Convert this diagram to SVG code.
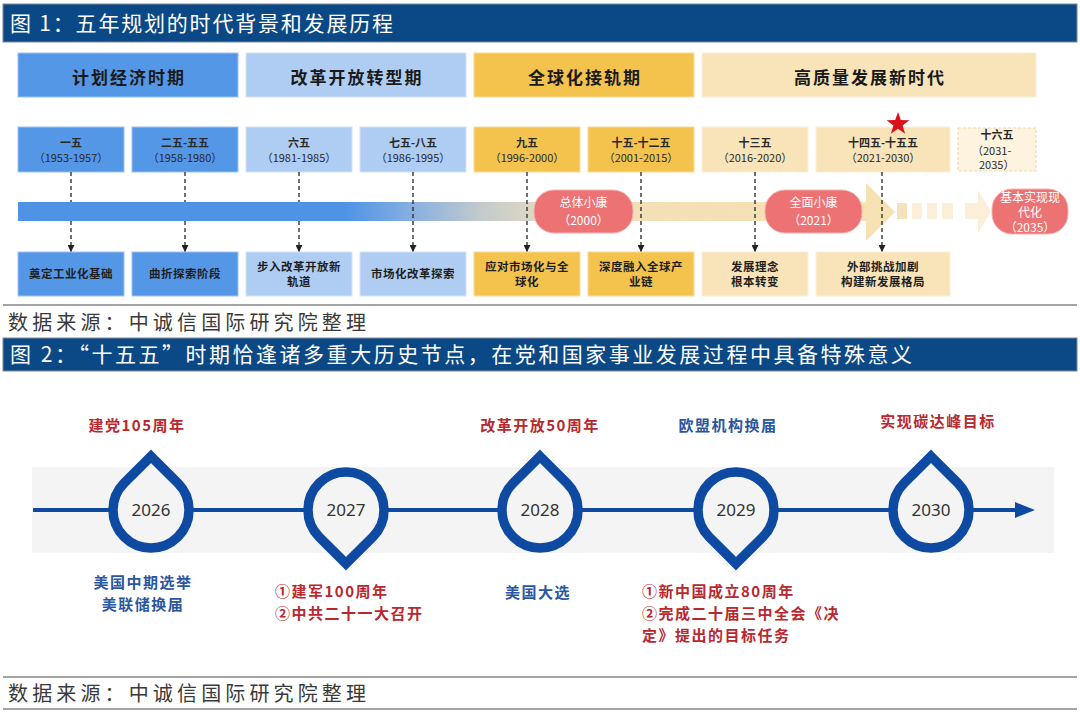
<svg xmlns="http://www.w3.org/2000/svg" width="1080" height="714" viewBox="0 0 1080 714">
<style>
.hdr{fill:#0b4886;stroke:#7d8a99;stroke-width:1}
.htxt{font-family:"Noto Sans CJK SC","Liberation Sans",sans-serif;font-size:21px;fill:#fff}
.src{font-family:"Noto Sans CJK SC","Liberation Sans",sans-serif;font-size:20px;fill:#3a3a3a}
.rule{stroke:#a3a3a3;stroke-width:2}
.ph{font-family:"Noto Sans CJK SC",sans-serif;font-size:17px;font-weight:700;fill:#1a1a1a;letter-spacing:2px}
.pd1{font-family:"Noto Sans CJK SC",sans-serif;font-size:11px;font-weight:700;fill:#2a2a2a}
.pd2{font-family:"Noto Sans CJK SC",sans-serif;font-size:11px;fill:#2a2a2a}
.bt{font-family:"Noto Sans CJK SC",sans-serif;font-size:11.5px;font-weight:700;fill:#1f1f1f;letter-spacing:0.5px}
.pt{font-family:"Noto Sans CJK SC",sans-serif;font-size:12px;fill:#fff}
.pill{fill:#ec7273;stroke:#f6b3b3;stroke-width:1}
.c1{fill:#5597e7;stroke:#9cc2f2;stroke-width:1}
.c2{fill:#afcdf2;stroke:#d3e3f8;stroke-width:1}
.c3{fill:#f4c34e;stroke:#f8dc98;stroke-width:1}
.c4{fill:#f8e4b8;stroke:#fbf0d8;stroke-width:1}
.dl{stroke:#262626;stroke-width:1.3;stroke-dasharray:4 3;fill:none}
.drop{fill:#f4f4f4;stroke:#0f4aa2;stroke-width:9.5;stroke-linejoin:miter}
.yr{font-family:"Noto Sans","Liberation Sans",sans-serif;font-size:17px;fill:#333;text-anchor:middle}
.lr{font-family:"Noto Sans CJK SC",sans-serif;font-size:15px;font-weight:700;fill:#b8282e;letter-spacing:1.5px}
.lb{font-family:"Noto Sans CJK SC",sans-serif;font-size:15px;font-weight:700;fill:#2a56a0;letter-spacing:1.5px}
</style>
<defs>
<marker id="ah" viewBox="0 0 10 10" refX="10" refY="5" markerWidth="7" markerHeight="7" orient="auto" markerUnits="userSpaceOnUse">
<path d="M0,0 L10,5 L0,10 z" fill="#222"/>
</marker>
<linearGradient id="bar" gradientUnits="userSpaceOnUse" x1="18" y1="0" x2="866" y2="0">
<stop offset="0" stop-color="#4f93e6"/>
<stop offset="0.386" stop-color="#4f93e6"/>
<stop offset="0.466" stop-color="#88b0e0"/>
<stop offset="0.548" stop-color="#c4cbcc"/>
<stop offset="0.600" stop-color="#d9d6c4"/>
<stop offset="0.66" stop-color="#f2dfb6"/>
<stop offset="1" stop-color="#f7e2b4"/>
</linearGradient>
</defs>

<rect width="1080" height="714" fill="#fff"/>

<!-- Figure 1 header -->
<g id="fig1-header">
<rect class="hdr" x="3" y="4" width="1074" height="38"/>
<text class="htxt" x="10" y="31" textLength="383" lengthAdjust="spacing">图 1：五年规划的时代背景和发展历程</text>
</g>

<!-- Phase boxes -->
<g id="phase-1"><rect class="c1" x="18" y="53" width="220" height="44"/><text class="ph" x="129" y="76" text-anchor="middle" dominant-baseline="central">计划经济时期</text></g>
<g id="phase-2"><rect class="c2" x="246" y="53" width="220" height="44"/><text class="ph" x="357" y="76" text-anchor="middle" dominant-baseline="central">改革开放转型期</text></g>
<g id="phase-3"><rect class="c3" x="474" y="53" width="220" height="44"/><text class="ph" x="585" y="76" text-anchor="middle" dominant-baseline="central">全球化接轨期</text></g>
<g id="phase-4"><rect class="c4" x="702" y="53" width="334" height="44"/><text class="ph" x="870" y="76" text-anchor="middle" dominant-baseline="central">高质量发展新时代</text></g>

<!-- Period boxes -->
<g id="p1"><rect class="c1" x="18" y="127" width="106" height="45"/><text class="pd1" x="71" y="147" text-anchor="middle">一五</text><text class="pd2" x="71" y="162" text-anchor="middle">（1953-1957）</text></g>
<g id="p2"><rect class="c1" x="132" y="127" width="106" height="45"/><text class="pd1" x="185" y="147" text-anchor="middle">二五-五五</text><text class="pd2" x="185" y="162" text-anchor="middle">（1958-1980）</text></g>
<g id="p3"><rect class="c2" x="246" y="127" width="106" height="45"/><text class="pd1" x="299" y="147" text-anchor="middle">六五</text><text class="pd2" x="299" y="162" text-anchor="middle">（1981-1985）</text></g>
<g id="p4"><rect class="c2" x="360" y="127" width="106" height="45"/><text class="pd1" x="413" y="147" text-anchor="middle">七五-八五</text><text class="pd2" x="413" y="162" text-anchor="middle">（1986-1995）</text></g>
<g id="p5"><rect class="c3" x="474" y="127" width="106" height="45"/><text class="pd1" x="527" y="147" text-anchor="middle">九五</text><text class="pd2" x="527" y="162" text-anchor="middle">（1996-2000）</text></g>
<g id="p6"><rect class="c3" x="588" y="127" width="106" height="45"/><text class="pd1" x="641" y="147" text-anchor="middle">十五-十二五</text><text class="pd2" x="641" y="162" text-anchor="middle">（2001-2015）</text></g>
<g id="p7"><rect class="c4" x="702" y="127" width="106" height="45"/><text class="pd1" x="755" y="147" text-anchor="middle">十三五</text><text class="pd2" x="755" y="162" text-anchor="middle">（2016-2020）</text></g>
<g id="p8"><rect class="c4" x="816" y="127" width="134" height="45"/><text class="pd1" x="883" y="147" text-anchor="middle">十四五-十五五</text><text class="pd2" x="883" y="162" text-anchor="middle">（2021-2030）</text></g>
<g id="p9"><rect x="958" y="128" width="78" height="43" fill="#fdf3df" stroke="#f1dcae" stroke-width="1.2" stroke-dasharray="3 2"/><text class="pd1" x="997" y="139" text-anchor="middle">十六五</text><text class="pd2" x="972" y="155">（2031-</text><text class="pd2" x="979" y="169">2035）</text></g>
<g id="star"><polygon points="898,112 900.8,120.1 909.4,120.3 902.6,125.5 905.1,133.7 898,128.8 890.9,133.7 893.4,125.5 886.6,120.3 895.2,120.1" fill="#d8131b"/></g>

<!-- Timeline bar -->
<g id="bar-arrow">
<rect x="18" y="202" width="850" height="19" fill="url(#bar)"/>
<polygon points="866,183 895,212 866,241" fill="#f7e2b4"/>
<rect x="897" y="203" width="10" height="16" fill="#f5e2bc"/>
<rect x="912" y="203" width="10" height="16" fill="#fcefd9"/>
<rect x="927" y="203" width="10" height="16" fill="#fcefd9"/>
<rect x="942" y="203" width="11" height="16" fill="#fcefd9"/>
<rect x="965" y="203" width="14" height="16" fill="#fcefd9"/>
<polygon points="978,190 991,211.5 978,233" fill="#fcefd9"/>
</g>

<!-- Connectors -->
<g id="connectors">
<path class="dl" d="M71,172 V202 M185,172 V202 M299,172 V202"/>
<line class="dl" x1="71" y1="221" x2="71" y2="252" marker-end="url(#ah)"/>
<line class="dl" x1="185" y1="221" x2="185" y2="252" marker-end="url(#ah)"/>
<line class="dl" x1="299" y1="221" x2="299" y2="252" marker-end="url(#ah)"/>
<line class="dl" x1="413" y1="172" x2="413" y2="252" marker-end="url(#ah)"/>
<line class="dl" x1="527" y1="172" x2="527" y2="252" marker-end="url(#ah)"/>
<line class="dl" x1="641" y1="172" x2="641" y2="252" marker-end="url(#ah)"/>
<line class="dl" x1="755" y1="172" x2="755" y2="252" marker-end="url(#ah)"/>
<line class="dl" x1="882" y1="172" x2="882" y2="252" marker-end="url(#ah)"/>
</g>

<!-- Milestone pills -->
<g id="pill-2000"><rect class="pill" x="534" y="190" width="99" height="43" rx="20"/><text class="pt" x="583.5" y="207" text-anchor="middle">总体小康</text><text class="pt" x="583.5" y="225" text-anchor="middle">（2000）</text></g>
<g id="pill-2021"><rect class="pill" x="765" y="190" width="97" height="43" rx="20"/><text class="pt" x="813.5" y="207" text-anchor="middle">全面小康</text><text class="pt" x="813.5" y="225" text-anchor="middle">（2021）</text></g>
<g id="pill-2035"><rect class="pill" x="992" y="189" width="76" height="45" rx="20"/><text class="pt" x="1030" y="202" text-anchor="middle" font-size="11">基本实现现</text><text class="pt" x="1030" y="217" text-anchor="middle" font-size="11">代化</text><text class="pt" x="1030" y="232" text-anchor="middle" font-size="11">（2035）</text></g>

<!-- Bottom boxes -->
<g id="b1"><rect class="c1" x="18" y="252" width="106" height="44"/><text class="bt" x="71" y="278" text-anchor="middle">奠定工业化基础</text></g>
<g id="b2"><rect class="c1" x="132" y="252" width="106" height="44"/><text class="bt" x="185" y="278" text-anchor="middle">曲折探索阶段</text></g>
<g id="b3"><rect class="c2" x="246" y="252" width="106" height="44"/><text class="bt" x="299" y="271" text-anchor="middle">步入改革开放新</text><text class="bt" x="299" y="286" text-anchor="middle">轨道</text></g>
<g id="b4"><rect class="c2" x="360" y="252" width="106" height="44"/><text class="bt" x="413" y="278" text-anchor="middle">市场化改革探索</text></g>
<g id="b5"><rect class="c3" x="474" y="252" width="106" height="44"/><text class="bt" x="527" y="271" text-anchor="middle">应对市场化与全</text><text class="bt" x="527" y="286" text-anchor="middle">球化</text></g>
<g id="b6"><rect class="c3" x="588" y="252" width="106" height="44"/><text class="bt" x="641" y="271" text-anchor="middle">深度融入全球产</text><text class="bt" x="641" y="286" text-anchor="middle">业链</text></g>
<g id="b7"><rect class="c4" x="702" y="252" width="106" height="44"/><text class="bt" x="755" y="271" text-anchor="middle">发展理念</text><text class="bt" x="755" y="286" text-anchor="middle">根本转变</text></g>
<g id="b8"><rect class="c4" x="816" y="252" width="134" height="44"/><text class="bt" x="883" y="271" text-anchor="middle">外部挑战加剧</text><text class="bt" x="883" y="286" text-anchor="middle">构建新发展格局</text></g>

<!-- Source 1 -->
<g id="source-1">
<line class="rule" x1="3" y1="305" x2="1077" y2="305"/>
<text class="src" x="8" y="330" textLength="358" lengthAdjust="spacing">数据来源：中诚信国际研究院整理</text>
</g>

<!-- Figure 2 header -->
<g id="fig2-header">
<rect class="hdr" x="3" y="338" width="1074" height="33"/>
<text class="htxt" x="10" y="362" textLength="902" lengthAdjust="spacing">图 2：“十五五”时期恰逢诸多重大历史节点，在党和国家事业发展过程中具备特殊意义</text>
</g>

<!-- Figure 2 timeline -->
<g id="band"><rect x="32" y="467" width="1022" height="86" fill="#f4f4f4"/></g>
<g id="connectors-2">
<line x1="33" y1="510" x2="1018" y2="510" stroke="#0f4aa2" stroke-width="4"/>
<polygon points="1015,502 1035,510 1015,518" fill="#0f4aa2"/>
</g>

<g id="y2026"><path class="drop" d="M151,456.3 L177.9,483.1 A38,38 0 1 1 124.1,483.1 Z"/><text class="yr" x="151" y="516">2026</text></g>
<g id="y2027"><path class="drop" d="M346,563.7 L372.9,536.9 A38,38 0 1 0 319.1,536.9 Z"/><text class="yr" x="346" y="516">2027</text></g>
<g id="y2028"><path class="drop" d="M540,456.3 L566.9,483.1 A38,38 0 1 1 513.1,483.1 Z"/><text class="yr" x="540" y="516">2028</text></g>
<g id="y2029"><path class="drop" d="M736,563.7 L762.9,536.9 A38,38 0 1 0 709.1,536.9 Z"/><text class="yr" x="736" y="516">2029</text></g>
<g id="y2030"><path class="drop" d="M931,456.3 L957.9,483.1 A38,38 0 1 1 904.1,483.1 Z"/><text class="yr" x="931" y="516">2030</text></g>

<g id="label-2026-top"><text class="lr" x="137" y="431" text-anchor="middle">建党105周年</text></g>
<g id="label-2028-top"><text class="lr" x="540" y="431" text-anchor="middle">改革开放50周年</text></g>
<g id="label-2029-top"><text class="lb" x="728" y="431" text-anchor="middle">欧盟机构换届</text></g>
<g id="label-2030-top"><text class="lr" x="938" y="427" text-anchor="middle">实现碳达峰目标</text></g>

<g id="label-2026-bottom"><text class="lb" x="143" y="588" text-anchor="middle">美国中期选举</text><text class="lb" x="143" y="610" text-anchor="middle">美联储换届</text></g>
<g id="label-2027-bottom"><text class="lr" x="275" y="597">①建军100周年</text><text class="lr" x="275" y="619">②中共二十一大召开</text></g>
<g id="label-2028-bottom"><text class="lb" x="538" y="598" text-anchor="middle">美国大选</text></g>
<g id="label-2029-bottom"><text class="lr" x="642" y="597">①新中国成立80周年</text><text class="lr" x="642" y="619">②完成二十届三中全会《决</text><text class="lr" x="642" y="641">定》提出的目标任务</text></g>

<!-- Source 2 -->
<g id="source-2">
<line class="rule" x1="3" y1="677" x2="1077" y2="677"/>
<text class="src" x="8" y="701" textLength="358" lengthAdjust="spacing">数据来源：中诚信国际研究院整理</text>
<line class="rule" x1="3" y1="709" x2="1077" y2="709"/>
</g>
</svg>
